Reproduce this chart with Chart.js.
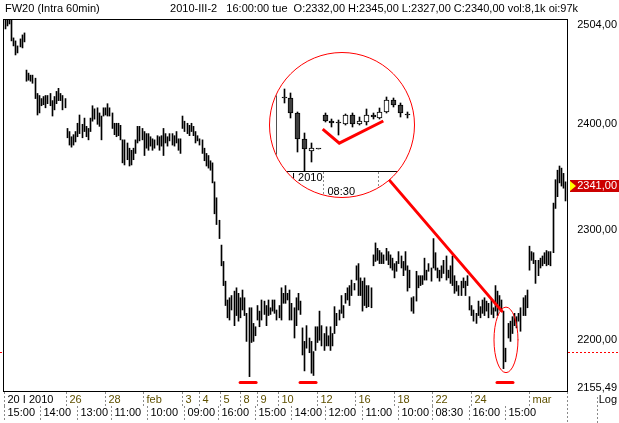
<!DOCTYPE html>
<html>
<head>
<meta charset="utf-8">
<script src="https://cdn.jsdelivr.net/npm/chart.js@4.4.0/dist/chart.umd.min.js"></script>
<style>
  html, body { margin: 0; padding: 0; background: #fff; }
  #wrap { position: relative; width: 619px; height: 423px; overflow: hidden; }
  #main { position: absolute; left: 0; top: 0; }
  #lens { position: absolute; left: 269px; top: 52px; width: 146px; height: 146px; box-sizing: border-box;
          border: 1px solid #ff0000; border-radius: 50%; overflow: hidden; background: #fff; }
  #inset { position: absolute; left: 0; top: 0; }
</style>
</head>
<body>
<div id="wrap">
  <canvas id="main" width="619" height="423"></canvas>
  <div id="lens"><canvas id="inset" width="144" height="144"></canvas></div>
</div>
<script>
// sessions (60 min bars), first day starts at 15:00
const sessionDays = ['2010-01-20', '2010-01-21', '2010-01-22', '2010-01-25', '2010-01-26', '2010-01-27',
  '2010-01-28', '2010-01-29', '2010-02-01', '2010-02-02', '2010-02-03', '2010-02-04', '2010-02-05',
  '2010-02-08', '2010-02-09', '2010-02-10', '2010-02-11', '2010-02-12', '2010-02-15', '2010-02-16',
  '2010-02-17', '2010-02-18', '2010-02-19', '2010-02-22', '2010-02-23', '2010-02-24', '2010-02-25',
  '2010-02-26', '2010-03-01', '2010-03-02'];
const sessionHours = ['08:30', '09:00', '10:00', '11:00', '12:00', '13:00', '14:00', '15:00', '16:00'];
const firstHour = '15:00';

const highs = [2504, 2504,
  2504, 2503, 2485, 2482, 2477, 2484, 2488, 2490, 2453,
  2450, 2448, 2448, 2445, 2430, 2428, 2425, 2427, 2428,
  2428, 2430, 2423, 2427, 2432, 2435, 2430, 2428, 2425,
  2396, 2393, 2388, 2390, 2393, 2401, 2409, 2400, 2406,
  2398, 2396, 2406, 2418, 2415, 2416, 2411, 2408, 2416,
  2416, 2420, 2416, 2411, 2401, 2401, 2401, 2399, 2385,
  2385, 2382, 2377, 2375, 2377, 2385, 2398, 2398, 2396,
  2393, 2391, 2391, 2388, 2386, 2385, 2389, 2388, 2389,
  2396, 2391, 2388, 2391, 2391, 2389, 2393, 2386, 2386,
  2408, 2403, 2401, 2399, 2401, 2398, 2393, 2389, 2386,
  2385, 2377, 2372, 2370, 2365, 2363, 2345, 2330, 2309,
  2286, 2271, 2253, 2236, 2238, 2240, 2244, 2247, 2242,
  2238, 2245, 2238, 2224, 2229, 2229, 2215, 2212, 2231,
  2226, 2236, 2235, 2231, 2236, 2229, 2236, 2236, 2227,
  2231, 2247, 2242, 2249, 2242, 2245, 2233, 2229, 2238,
  2242, 2235, 2211, 2199, 2213, 2202, 2199, 2190, 2212,
  2212, 2226, 2213, 2206, 2212, 2204, 2212, 2206, 2230,
  2224, 2227, 2240, 2231, 2242, 2247, 2249, 2254, 2251,
  2267, 2269, 2256, 2253, 2256, 2249, 2249, 2247, 2277,
  2288, 2283, 2281, 2279, 2277, 2283, 2280, 2277, 2274,
  2269, 2271, 2280, 2276, 2271, 2280, 2267, 2263, 2238,
  2239, 2262, 2258, 2258, 2258, 2274, 2263, 2269, 2265,
  2292, 2279, 2265, 2263, 2267, 2272, 2276, 2263, 2267,
  2276, 2258, 2253, 2249, 2253, 2256, 2253, 2258, 2239,
  2231, 2227, 2224, 2235, 2230, 2236, 2238, 2235, 2233,
  2236, 2229, 2249, 2244, 2240, 2236, 2226, 2193, 2215,
  2217, 2221, 2224, 2221, 2224, 2229, 2238, 2240, 2245,
  2285, 2280, 2279, 2272, 2272, 2274, 2276, 2279, 2281,
  2280, 2280, 2325, 2347, 2356, 2360, 2358, 2353, 2345];

const lows = [2494, 2497,
  2499, 2482, 2477, 2468, 2470, 2476, 2475, 2481, 2442,
  2443, 2442, 2440, 2425, 2409, 2411, 2418, 2419, 2416,
  2420, 2418, 2408, 2414, 2420, 2423, 2423, 2414, 2416,
  2387, 2380, 2378, 2380, 2383, 2388, 2391, 2387, 2393,
  2388, 2385, 2393, 2403, 2405, 2400, 2398, 2385, 2408,
  2409, 2408, 2408, 2396, 2390, 2388, 2389, 2385, 2363,
  2361, 2366, 2360, 2361, 2366, 2372, 2382, 2384, 2385,
  2370, 2377, 2375, 2379, 2375, 2377, 2380, 2375, 2379,
  2370, 2382, 2379, 2384, 2380, 2379, 2382, 2375, 2372,
  2396, 2393, 2391, 2389, 2393, 2389, 2382, 2384, 2380,
  2372, 2365, 2360, 2358, 2356, 2344, 2315, 2305, 2292,
  2267, 2249, 2231, 2220, 2218, 2227, 2213, 2222, 2217,
  2220, 2227, 2222, 2199, 2168, 2198, 2199, 2204, 2218,
  2212, 2218, 2223, 2213, 2222, 2223, 2226, 2224, 2218,
  2220, 2218, 2233, 2233, 2236, 2218, 2218, 2202, 2213,
  2227, 2223, 2187, 2173, 2193, 2189, 2171, 2169, 2191,
  2198, 2200, 2195, 2191, 2195, 2195, 2191, 2195, 2206,
  2213, 2218, 2224, 2220, 2233, 2236, 2231, 2240, 2245,
  2254, 2240, 2240, 2226, 2231, 2229, 2230, 2229, 2267,
  2271, 2272, 2269, 2269, 2269, 2272, 2268, 2265, 2263,
  2256, 2262, 2269, 2265, 2258, 2263, 2244, 2247, 2226,
  2224, 2235, 2247, 2249, 2250, 2254, 2254, 2262, 2253,
  2265, 2263, 2256, 2253, 2256, 2260, 2254, 2256, 2251,
  2249, 2242, 2244, 2240, 2240, 2247, 2240, 2249, 2227,
  2222, 2217, 2215, 2222, 2220, 2224, 2222, 2226, 2220,
  2223, 2220, 2226, 2222, 2227, 2226, 2175, 2181, 2202,
  2199, 2206, 2213, 2211, 2217, 2208, 2222, 2222, 2229,
  2263, 2272, 2269, 2251, 2258, 2265, 2267, 2269, 2267,
  2268, 2267, 2279, 2320, 2331, 2344, 2341, 2339, 2327];

// axis labels
const yTicks = [2504, 2400, 2300, 2200, 2155.49];
const yMin = 2155.49, yMax = 2504;
const lastPrice = 2341;
const refLevel = 2190;
const dayTickIdx = [0, 29, 47, 65, 83, 91, 101, 110, 118, 128, 146, 164, 182, 200, 218, 245];
const dayTickText = ['20 I 2010', '26', '28', 'feb', '3', '4', '5', '8', '9', '10', '12', '16', '18', '22', '24', 'mar'];
const timeTickIdx = [0, 17, 34, 50, 67, 84, 100, 117, 134, 150, 167, 184, 200, 217, 234];
const timeTickText = ['15:00', '14:00', '13:00', '11:00', '10:00', '09:00', '16:00', '15:00', '14:00',
  '12:00', '11:00', '10:00', '08:30', '16:00', '15:00'];
const lowMarks = [114, 142, 234];   // red marks under the three lows
const circledBar = 233;             // bar in the ellipse, target of the pointer line

// magnified view (candles)
const lensOpen  = [2232.5, 2232, 2224.5, 2211.5, 2205.5, 2206.5, 2223.5, 2220.5, 2219.5, 2219, 2223.5, 2219, 2220, 2223.5, 2222, 2225, 2231, 2228.5, 2223.5];
const lensClose = [2232, 2224.5, 2211.5, 2206.5, 2207, 2206.5, 2220.5, 2219.5, 2219.5, 2223.5, 2219, 2220.5, 2223.5, 2222.5, 2225, 2231, 2228.5, 2224.5, 2223.5];
const lensHigh  = [2236.5, 2234.5, 2225, 2214.5, 2209.5, 2206.5, 2224.5, 2221.5, 2221, 2224, 2224.5, 2222.5, 2226.5, 2224.5, 2227, 2232.5, 2232, 2229.5, 2225];
const lensLow   = [2229.5, 2222, 2205, 2195.5, 2200, 2206.5, 2220, 2217.5, 2213.5, 2218.5, 2217.5, 2218.5, 2218.5, 2221.5, 2221.5, 2224.5, 2227.5, 2222.5, 2222];
const lensMarkK = [5.65, 8.07, 14.5];
const lensMarkV = [2216.4, 2209.4, 2220.5];
const lensDashK = [5.65, 13.7];
const lensTickText = ['I 2010', '08:30'];

const FONT = '11px "Liberation Sans", Arial, sans-serif';
const OLIVE = '#5f5000';

const barLabels = [];
sessionDays.forEach((d, di) => {
  sessionHours.forEach(h => {
    if (di === 0 && h < firstHour) return;
    barLabels.push(d + ' ' + h);
  });
});

function fmt(v) { return v.toFixed(2).replace('.', ','); }

function vDash(ctx, x, y0, y1) {
  ctx.save();
  ctx.strokeStyle = '#8a8a8a';
  ctx.lineWidth = 1;
  ctx.setLineDash([2, 2]);
  ctx.beginPath();
  ctx.moveTo(x, y0);
  ctx.lineTo(x, y1);
  ctx.stroke();
  ctx.restore();
}

// crisp 1px bars
const snap = {
  id: 'snap',
  beforeDatasetsDraw(chart) {
    chart.data.datasets.forEach((ds, i) => {
      const meta = chart.getDatasetMeta(i);
      if (meta.type !== 'bar') return;
      meta.data.forEach(el => {
        el.x = (el.width % 2 === 1) ? Math.floor(el.x) + 0.5 : Math.round(el.x);
      });
    });
  }
};

const decor = {
  id: 'decor',
  afterDraw(chart) {
    const { ctx, chartArea: ca, scales: { x, y } } = chart;
    ctx.save();
    ctx.font = FONT;
    ctx.textBaseline = 'middle';

    // frame
    ctx.strokeStyle = '#000';
    ctx.lineWidth = 1;
    ctx.strokeRect(ca.left - 0.5, ca.top + 0.5, ca.right - ca.left + 1, ca.bottom - ca.top);

    // header
    ctx.fillStyle = '#000';
    ctx.textAlign = 'left';
    ctx.fillText('FW20 (Intra 60min)', 5, 9);
    ctx.textAlign = 'right';
    ctx.fillText('2010-III-2   16:00:00 tue  O:2332,00 H:2345,00 L:2327,00 C:2340,00 vol:8,1k oi:97k', 578, 9);

    // price labels
    yTicks.forEach(v => {
      const py = Math.min(Math.max(y.getPixelForValue(v), 25), 388);
      ctx.fillText(fmt(v), 617, py);
    });
    ctx.fillText('Log', 617, 400);

    // last price badge
    const by = Math.round(y.getPixelForValue(lastPrice));
    ctx.fillStyle = '#cc0000';
    ctx.fillRect(570, by - 6, 49, 12);
    ctx.fillStyle = '#ffff00';
    ctx.beginPath();
    ctx.moveTo(570, by - 5);
    ctx.lineTo(576, by);
    ctx.lineTo(570, by + 5);
    ctx.closePath();
    ctx.fill();
    ctx.fillStyle = '#fff';
    ctx.fillText(fmt(lastPrice), 617, by);

    // reference level (outside the plot)
    const ry = Math.round(y.getPixelForValue(refLevel)) + 0.5;
    ctx.save();
    ctx.strokeStyle = '#ff0000';
    ctx.setLineDash([2, 2]);
    ctx.beginPath();
    ctx.moveTo(0, ry); ctx.lineTo(ca.left - 1, ry);
    ctx.moveTo(ca.right + 1, ry); ctx.lineTo(619, ry);
    ctx.stroke();
    ctx.restore();

    // time axis: day row and hour row
    ctx.textAlign = 'left';
    dayTickIdx.forEach((idx, k) => {
      const px = Math.round(x.getPixelForValue(idx)) - 0.5;
      vDash(ctx, px, ca.bottom + 1, ca.bottom + 15);
      ctx.fillStyle = k === 0 ? '#000' : OLIVE;
      ctx.fillText(dayTickText[k], px + 3, ca.bottom + 9);
    });
    timeTickIdx.forEach((idx, k) => {
      const px = Math.round(x.getPixelForValue(idx)) - 0.5;
      vDash(ctx, px, ca.bottom + 15, ca.bottom + 30);
      ctx.fillStyle = '#000';
      ctx.fillText(timeTickText[k], px + 3, ca.bottom + 22);
    });
    vDash(ctx, ca.right + 0.5, ca.bottom + 1, 423);
    vDash(ctx, 597.5, ca.bottom + 6, 423);

    // annotations
    const lens = document.getElementById('lens');
    const cx = lens.offsetLeft + lens.offsetWidth / 2;
    const cy = lens.offsetTop + lens.offsetHeight / 2;
    const r = lens.offsetWidth / 2;
    const ex = x.getPixelForValue(circledBar) - 2;
    const ey = y.getPixelForValue(highs[circledBar]);
    const d = Math.hypot(ex - cx, ey - cy);
    ctx.strokeStyle = '#ff0000';
    ctx.lineWidth = 3;
    ctx.lineCap = 'round';
    ctx.beginPath();
    ctx.moveTo(cx + (ex - cx) * r / d, cy + (ey - cy) * r / d);
    ctx.lineTo(ex, ey);
    ctx.stroke();

    const yHi = y.getPixelForValue(highs[circledBar]);
    const yLo = y.getPixelForValue(lows[circledBar]);
    ctx.lineWidth = 1;
    ctx.beginPath();
    ctx.ellipse(x.getPixelForValue(circledBar + 1), (yHi + yLo) / 2, 12, (yLo - yHi) / 2 + 4, 0, 0, Math.PI * 2);
    ctx.stroke();

    ctx.lineWidth = 3;
    lowMarks.forEach(idx => {
      const mx = x.getPixelForValue(idx) - 1;
      ctx.beginPath();
      ctx.moveTo(mx - 8, ca.bottom - 8.5);
      ctx.lineTo(mx + 8, ca.bottom - 8.5);
      ctx.stroke();
    });
    ctx.restore();
  }
};

new Chart(document.getElementById('main'), {
  type: 'bar',
  data: {
    labels: barLabels,
    datasets: [{
      data: highs.map((h, i) => [lows[i], h]),
      backgroundColor: '#000',
      borderWidth: 0,
      barThickness: 1
    }]
  },
  options: {
    responsive: false,
    animation: false,
    events: [],
    layout: { padding: { left: 4, top: 19, right: 0, bottom: 0 } },
    plugins: { legend: { display: false }, tooltip: { enabled: false } },
    scales: {
      x: {
        grid: { display: false }, border: { display: false }, ticks: { display: false },
        afterFit(s) { s.height = 32; }
      },
      y: {
        type: 'logarithmic', position: 'right', min: yMin, max: yMax, bounds: 'data',
        grid: { display: false }, border: { display: false }, ticks: { display: false },
        afterFit(s) { s.width = 52; }
      }
    }
  },
  plugins: [snap, decor]
});

// magnified view inside the circle
const lensDecor = {
  id: 'lensDecor',
  afterDraw(chart) {
    const { ctx, chartArea: ca, scales: { x } } = chart;
    ctx.save();
    ctx.strokeStyle = '#505050';
    ctx.lineWidth = 1;
    ctx.beginPath();
    ctx.moveTo(ca.left + 0.5, ca.top);
    ctx.lineTo(ca.left + 0.5, ca.bottom);
    ctx.stroke();
    ctx.strokeStyle = '#000';
    ctx.beginPath();
    ctx.moveTo(0, ca.bottom + 0.5);
    ctx.lineTo(x.getPixelForValue(17.2), ca.bottom + 0.5);
    ctx.stroke();
    const d1 = Math.round(x.getPixelForValue(lensDashK[0])) + 0.5;
    const d2 = Math.round(x.getPixelForValue(lensDashK[1])) + 0.5;
    vDash(ctx, d1, ca.bottom + 1, ca.bottom + 27);
    vDash(ctx, d2, ca.bottom + 1, ca.bottom + 17);
    ctx.font = FONT;
    ctx.textBaseline = 'middle';
    ctx.fillStyle = '#000';
    ctx.textAlign = 'right';
    ctx.fillText(lensTickText[0], d1 - 1, ca.bottom + 7);
    ctx.textAlign = 'left';
    ctx.fillText(lensTickText[1], d1 + 4, ca.bottom + 21);
    ctx.restore();
  }
};

new Chart(document.getElementById('inset'), {
  type: 'bar',
  data: {
    datasets: [
      {
        type: 'line',
        data: lensMarkK.map((k, i) => ({ x: k, y: lensMarkV[i] })),
        borderColor: '#ff0000', borderWidth: 3, pointRadius: 0, order: 0
      },
      {
        data: lensHigh.map((h, i) => ({ x: i, y: [lensLow[i], h] })),
        backgroundColor: '#000', borderWidth: 0, barThickness: 1, grouped: false, order: 2
      },
      {
        data: lensOpen.map((o, i) => ({ x: i, y: [Math.min(o, lensClose[i]), Math.max(o, lensClose[i])] })),
        backgroundColor: lensOpen.map((o, i) => lensClose[i] > o ? '#ffffff' : '#404040'),
        borderColor: '#000', borderWidth: 1, borderSkipped: false, minBarLength: 1,
        barThickness: 5, grouped: false, order: 1
      }
    ]
  },
  options: {
    responsive: false,
    animation: false,
    events: [],
    layout: { padding: { left: 6, top: 29, right: 0, bottom: 26 } },
    plugins: { legend: { display: false }, tooltip: { enabled: false } },
    scales: {
      x: { type: 'linear', display: false, min: -1.168, max: 18.98, offset: false },
      y: { type: 'linear', display: false, min: 2195.5, max: 2240 }
    }
  },
  plugins: [snap, lensDecor]
});
</script>
</body>
</html>
